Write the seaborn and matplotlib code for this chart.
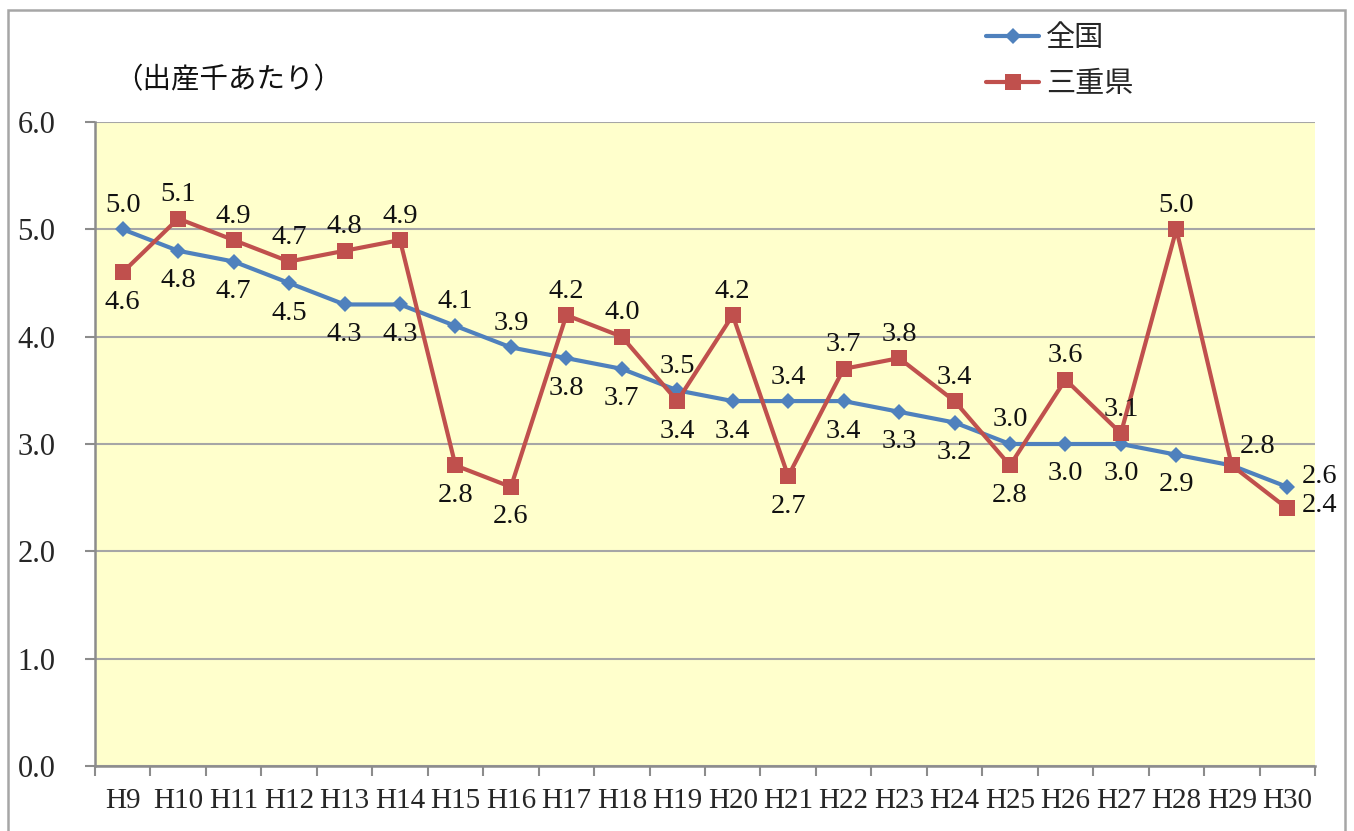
import numpy as np
import pandas as pd
import matplotlib
matplotlib.use("Agg")
import matplotlib.pyplot as plt
import matplotlib.patches as mpatches
import seaborn as sns

# ---- data ----
years = ["H9", "H10", "H11", "H12", "H13", "H14", "H15", "H16", "H17", "H18", "H19",
         "H20", "H21", "H22", "H23", "H24", "H25", "H26", "H27", "H28", "H29", "H30"]
national = [5.0, 4.8, 4.7, 4.5, 4.3, 4.3, 4.1, 3.9, 3.8, 3.7, 3.5,
            3.4, 3.4, 3.4, 3.3, 3.2, 3.0, 3.0, 3.0, 2.9, 2.8, 2.6]
mie = [4.6, 5.1, 4.9, 4.7, 4.8, 4.9, 2.8, 2.6, 4.2, 4.0, 3.4,
       4.2, 2.7, 3.7, 3.8, 3.4, 2.8, 3.6, 3.1, 5.0, 2.8, 2.4]
series_names = ["全国", "三重県"]
y_ticks = [0, 1, 2, 3, 4, 5, 6]
unit_label = "（出産千あたり）"

# label placement (style, not data)
nat_pos = ["a", "b", "b", "b", "b", "b", "a", "a", "b", "b", "a",
           "b", "a", "b", "b", "b", "a", "b", "b", "b", "ar", "ru"]
mie_pos = ["b", "a", "a", "a", "a", "a", "b", "b", "a", "a", "b",
           "a", "b", "a", "a", "a", "b", "a", "a", "a", None, "r"]
offsets = {"a": (0, 24, "center"), "b": (0, -30, "center"),
           "r": (14, 3, "left"), "ru": (14, 10, "left"), "ar": (26, 19, "center")}

BLUE = "#4F81BD"
RED = "#C0504D"

sns.set_theme(style="white")
plt.rcParams["font.family"] = ["Liberation Serif", "Noto Sans CJK JP", "DejaVu Sans"]

df = pd.DataFrame({"year": years, "全国": national, "三重県": mie})

fig = plt.figure(figsize=(13.54, 8.31), dpi=100)
ax = fig.add_axes([95 / 1354, 1 - 766 / 831, (1315 - 95) / 1354, (766 - 122) / 831])
ax.set_facecolor("#FFFFCC")

sns.lineplot(data=df, x="year", y="全国", ax=ax, color=BLUE, marker="D",
             markersize=8, markeredgewidth=0, linewidth=3.0, label=series_names[0],
             sort=False)
sns.lineplot(data=df, x="year", y="三重県", ax=ax, color=RED, marker="s",
             markersize=11, markeredgewidth=0, linewidth=3.0, label=series_names[1],
             sort=False)

ax.set_xlim(-0.5, len(years) - 0.5)
ax.set_ylim(0, 6)
ax.set_xlabel("")
ax.set_ylabel("")

# y axis
ax.set_yticks(y_ticks)
ax.set_yticklabels([f"{v:.1f}" for v in y_ticks], fontsize=22)
ax.yaxis.grid(True, color="#A6A6A6", linewidth=1.5)
ax.xaxis.grid(False)
ax.tick_params(axis="y", which="major", direction="out", length=7.5, width=1.5,
               color="#8C8C8C", pad=21, left=True)

# x axis
ax.set_xticks(range(len(years)))
ax.set_xticklabels(years, fontsize=21)
ax.set_xticks(np.arange(-0.5, len(years), 1), minor=True)
ax.tick_params(axis="x", which="major", length=0, pad=16)
ax.tick_params(axis="x", which="minor", direction="out", length=7.5, width=1.5,
               color="#8C8C8C", bottom=True)

for s in ["top", "right"]:
    ax.spines[s].set_visible(False)
for s in ["left", "bottom"]:
    ax.spines[s].set_color("#8C8C8C")
    ax.spines[s].set_linewidth(1.8)

# data labels
def add_labels(values, positions):
    for i, (v, p) in enumerate(zip(values, positions)):
        if p is None:
            continue
        dx, dy, ha = offsets[p]
        ax.annotate(f"{v:.1f}", xy=(i, v), xytext=(dx, dy), textcoords="offset pixels",
                    ha=ha, va="center", fontsize=20.5, color="#111111")

add_labels(national, nat_pos)
add_labels(mie, mie_pos)

# legend
handles, labels = ax.get_legend_handles_labels()
ax.legend(handles, labels, loc="upper left", bbox_to_anchor=(960 / 1354, 1 + 3 / 831),
          bbox_transform=fig.transFigure, frameon=False, handlelength=1.8,
          handletextpad=0.25, labelspacing=0.55,
          prop={"family": "Noto Sans CJK JP", "size": 21})

# unit label
fig.text(114 / 1354, 1 - 80 / 831, unit_label, ha="left", va="center",
         fontsize=20.5, family="Noto Sans CJK JP", color="#111111")

# figure border
fig.patches.append(mpatches.Rectangle((8 / 1354, -0.01), (1345 - 8) / 1354, 1 - 10 / 831 + 0.01,
                                      transform=fig.transFigure, fill=False,
                                      edgecolor="#A6A6A6", linewidth=1.8))

fig.savefig("out.png", dpi=100)
